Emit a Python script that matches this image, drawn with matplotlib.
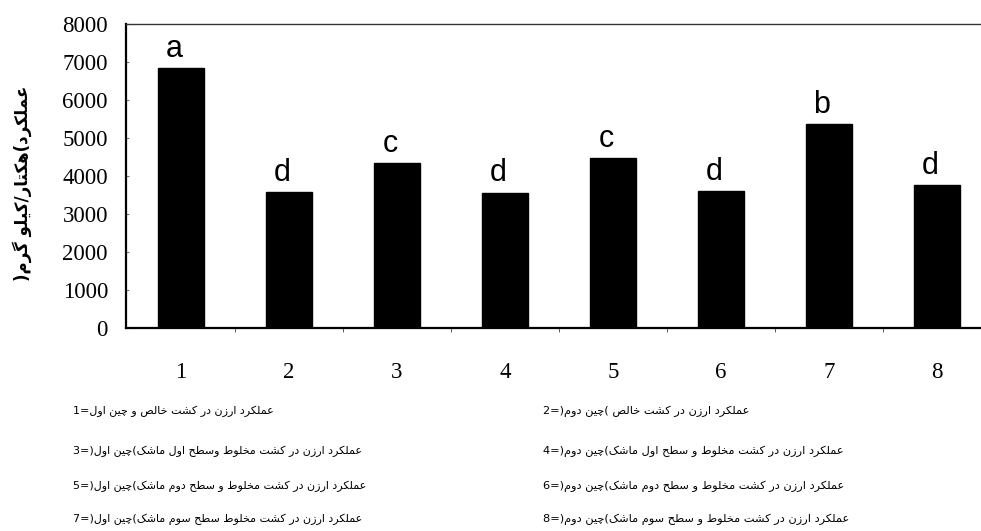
import matplotlib
matplotlib.use("Agg")
import matplotlib.pyplot as plt
from matplotlib.ticker import FixedLocator

# ---------------- data ----------------
categories = [1, 2, 3, 4, 5, 6, 7, 8]
yield_values = [6840, 3580, 4340, 3570, 4470, 3620, 5380, 3760]
group_letters = ["a", "d", "c", "d", "c", "d", "b", "d"]
y_ticks = [0, 1000, 2000, 3000, 4000, 5000, 6000, 7000, 8000]
y_label = "عملکرد(هکتار/کیلو گرم)"
legend_left = [
    "عملکرد ارزن در کشت خالص و چین اول=1",
    "عملکرد ارزن در کشت مخلوط وسطح اول ماشک(چین اول)=3",
    "عملکرد ارزن در کشت مخلوط و سطح دوم ماشک(چین اول)=5",
    "عملکرد ارزن در کشت مخلوط سطح سوم ماشک(چین اول)=7",
]
legend_right = [
    "عملکرد ارزن در کشت خالص (چین دوم)=2",
    "عملکرد ارزن در کشت مخلوط و سطح اول ماشک(چین دوم)=4",
    "عملکرد ارزن در کشت مخلوط و سطح دوم ماشک(چین دوم)=6",
    "عملکرد ارزن در کشت مخلوط و سطح سوم ماشک(چین دوم)=8",
]

# ------------- minimal Arabic/Persian shaping -------------
FORMS = {
    "ا": ("\uFE8D", "\uFE8E", "\uFE8D", "\uFE8E"),
    "د": ("\uFEA9", "\uFEAA", "\uFEA9", "\uFEAA"),
    "ر": ("\uFEAD", "\uFEAE", "\uFEAD", "\uFEAE"),
    "ز": ("\uFEAF", "\uFEB0", "\uFEAF", "\uFEB0"),
    "و": ("\uFEED", "\uFEEE", "\uFEED", "\uFEEE"),
    "ت": ("\uFE95", "\uFE96", "\uFE97", "\uFE98"),
    "ح": ("\uFEA1", "\uFEA2", "\uFEA3", "\uFEA4"),
    "خ": ("\uFEA5", "\uFEA6", "\uFEA7", "\uFEA8"),
    "س": ("\uFEB1", "\uFEB2", "\uFEB3", "\uFEB4"),
    "ش": ("\uFEB5", "\uFEB6", "\uFEB7", "\uFEB8"),
    "ص": ("\uFEB9", "\uFEBA", "\uFEBB", "\uFEBC"),
    "ط": ("\uFEC1", "\uFEC2", "\uFEC3", "\uFEC4"),
    "ع": ("\uFEC9", "\uFECA", "\uFECB", "\uFECC"),
    "ل": ("\uFEDD", "\uFEDE", "\uFEDF", "\uFEE0"),
    "م": ("\uFEE1", "\uFEE2", "\uFEE3", "\uFEE4"),
    "ن": ("\uFEE5", "\uFEE6", "\uFEE7", "\uFEE8"),
    "ه": ("\uFEE9", "\uFEEA", "\uFEEB", "\uFEEC"),
    "ک": ("\uFB8E", "\uFB8F", "\uFB90", "\uFB91"),
    "گ": ("\uFB92", "\uFB93", "\uFB94", "\uFB95"),
    "چ": ("\uFB7A", "\uFB7B", "\uFB7C", "\uFB7D"),
    "ی": ("\uFBFC", "\uFBFD", "\uFBFE", "\uFBFF"),
}
RIGHT_ONLY = set("اآدذرزژو")


def shape_rtl(text):
    out = []
    n = len(text)
    for i, c in enumerate(text):
        if c not in FORMS:
            out.append(c)
            continue
        prev = text[i - 1] if i > 0 else None
        nxt = text[i + 1] if i + 1 < n else None
        jp = prev in FORMS and prev not in RIGHT_ONLY
        jn = c not in RIGHT_ONLY and nxt in FORMS
        iso, fin, ini, med = FORMS[c]
        if jp and jn:
            out.append(med)
        elif jp:
            out.append(fin)
        elif jn:
            out.append(ini)
        else:
            out.append(iso)
    return "".join(out)[::-1]


# ---------------- figure ----------------
W, H, DPI = 981, 531, 100
fig = plt.figure(figsize=(W / DPI, H / DPI), dpi=DPI)
ax = fig.add_axes([126 / W, 1 - 328.3 / H, 1 - 126 / W, (328.3 - 24.3) / H])

ax.bar(categories, yield_values, width=0.43, color="black", edgecolor="black", zorder=2)

ax.set_xlim(0.491, 8.41)
ax.set_ylim(0, 8000)
ax.set_yticks(y_ticks)
ax.set_xticks(categories)
ax.set_xticklabels([str(c) for c in categories])
ax.xaxis.set_minor_locator(FixedLocator([c + 0.5 for c in categories[:-1]]))

serif = ["Liberation Serif", "DejaVu Serif"]
for lab in ax.get_yticklabels() + ax.get_xticklabels():
    lab.set_family(serif)
    lab.set_fontsize(16.5)
ax.tick_params(axis="y", which="major", length=2, direction="in", pad=13, color="#777")
ax.tick_params(axis="x", which="major", length=0, pad=24)
ax.tick_params(axis="x", which="minor", length=3, direction="out", color="#444")

for side in ("left", "bottom"):
    ax.spines[side].set_linewidth(1.6)
    ax.spines[side].set_color("black")
ax.spines["top"].set_linewidth(1.0)
ax.spines["top"].set_color("#333")
ax.spines["right"].set_visible(False)

for x, v, letter in zip(categories, yield_values, group_letters):
    ax.annotate(letter, (x, v), xytext=(-5, 3), textcoords="offset points",
                ha="center", va="bottom", fontsize=22,
                family=["Liberation Sans", "DejaVu Sans"])

fig.text(22 / W, 1 - 183 / H, shape_rtl(y_label), rotation=90, ha="center", va="center",
         fontsize=12, fontweight="bold", family=["DejaVu Sans"])

row_y = [411.7, 451.7, 486.7, 519.0]
for i, (tl, tr) in enumerate(zip(legend_left, legend_right)):
    y = 1 - row_y[i] / H
    fig.text(73 / W, y, shape_rtl(tl), ha="left", va="center", fontsize=8,
             family=["DejaVu Sans"])
    fig.text(543 / W, y, shape_rtl(tr), ha="left", va="center", fontsize=8.2,
             family=["DejaVu Sans"])

fig.savefig("out.png", dpi=DPI)
